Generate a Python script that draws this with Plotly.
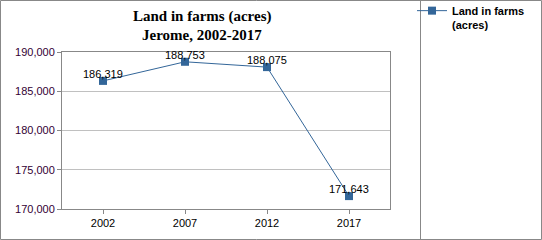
import plotly.graph_objects as go

years = ["2002", "2007", "2012", "2017"]
acres = [186319, 188753, 188075, 171643]
series_name = "<b>Land in farms<br>(acres)</b>"
title_lines = ["Land in farms (acres)", "Jerome, 2002-2017"]
y_ticks = [170000, 175000, 180000, 185000, 190000]

W, H = 542, 240
L, R, T, B = 62, 152, 52, 31
pw, ph = W - L - R, H - T - B

def px(x):
    return (x - L) / pw

def py(y):
    return (H - B - y) / ph

line_color = "#336699"
axis_gray = "#888888"
grid_gray = "#c0c0c0"

idx = list(range(len(years)))

fig = go.Figure()
fig.add_trace(go.Scatter(
    x=idx, y=acres, mode="lines+markers", name=series_name,
    line=dict(color=line_color, width=1),
    marker=dict(symbol="square", size=8, color=line_color),
))

for xv, yv in zip(idx, acres):
    fig.add_annotation(x=xv, y=yv, xref="x", yref="y", text=f"{yv:,}", showarrow=False,
                       yshift=7, yanchor="middle", xanchor="center",
                       font=dict(family="Arial, Liberation Sans", size=11, color="#000000"))

for line_text, yc in zip(title_lines, [16, 35]):
    fig.add_annotation(xref="paper", yref="paper", x=px(202), y=py(yc),
                       xanchor="center", yanchor="middle",
                       text="<b>" + line_text + "</b>",
                       showarrow=False, font=dict(family="Times New Roman, Liberation Serif", size=15, color="#000000"))

shapes = [
    dict(type="rect", xref="paper", yref="paper", x0=px(0.5), x1=px(W - 0.5), y0=py(0.5), y1=py(H - 0.5),
         line=dict(color=axis_gray, width=1)),
    dict(type="line", xref="paper", yref="paper", x0=px(420.5), x1=px(420.5), y0=py(0.5), y1=py(H - 0.5),
         line=dict(color=axis_gray, width=1)),
]

fig.update_layout(
    width=W, height=H, margin=dict(l=L, r=R, t=T, b=B, autoexpand=False),
    paper_bgcolor="white", plot_bgcolor="white",
    showlegend=True,
    legend=dict(x=px(412), y=py(-3), xanchor="left", yanchor="top", valign="top",
                font=dict(family="Arial, Liberation Sans", size=11, color="#000000"),
                itemwidth=30, bgcolor="rgba(0,0,0,0)", tracegroupgap=0),
    shapes=shapes,
    xaxis=dict(range=[-0.5, 3.5], tickvals=idx, ticktext=years,
               showline=True, linecolor=axis_gray, mirror=True,
               ticks="outside", ticklen=4, tickcolor=axis_gray, showgrid=False, zeroline=False,
               tickfont=dict(family="Arial, Liberation Sans", size=11, color="#000000")),
    yaxis=dict(range=[170000, 190000], tickvals=y_ticks, tickformat=",d",
               showline=True, linecolor=axis_gray, mirror=True,
               ticks="outside", ticklen=4, tickcolor=axis_gray,
               showgrid=True, gridcolor=grid_gray, zeroline=False,
               tickfont=dict(family="Arial, Liberation Sans", size=11, color="#330033")),
)

fig.write_html("out.html")
